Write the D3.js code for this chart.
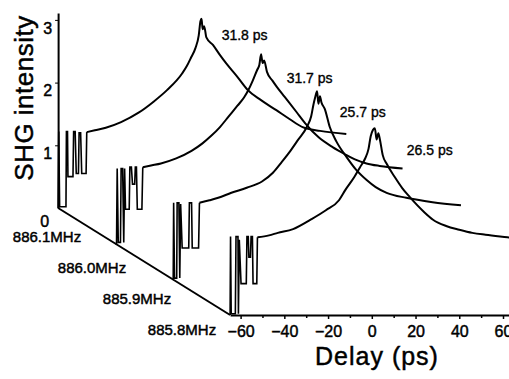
<!DOCTYPE html>
<html><head><meta charset="utf-8">
<script src="https://cdn.jsdelivr.net/npm/d3@7"></script>
<style>
body{margin:0;background:#fff}
svg{display:block}
text{font-family:"Liberation Sans",Arial,Helvetica,sans-serif;fill:#000;stroke:#000;stroke-width:0.45px}
</style>
</head><body>
<svg id="chart" width="509" height="379"></svg>
<script>
// ---------- data ----------
const frequencies = ["886.1MHz", "886.0MHz", "885.9MHz", "885.8MHz"];
const widthLabels = ["31.8 ps", "31.7 ps", "25.7 ps", "26.5 ps"];
const widthLabelDelay = [10, 13.5, 11.6, 16];
const widthLabelValue = [2.68, 2.56, 2.59, 2.55];
const delayTicks = [-60, -40, -20, 0, 20, 40, 60];
const delayMinorTicks = [-50, -30, -10, 10, 30, 50];
const intensityTicks = [0, 1, 2, 3];

const spikes886_1 = [[-64.8,0],[-64.5,1.22],[-64.1,0.02],[-61.2,0.02],[-61,1.22],[-60.5,1.22],[-60.3,0.5],[-58,0.5],[-57.7,1.22],[-57,1.22],[-56.5,0.55],[-55.5,0.55],[-55.2,1.2],[-54.5,1.2],[-54,0.55],[-52,0.55],[-51.7,1.21]];
const trace886_1 = [[-51.7,1.21],[-48,1.24],[-43,1.28],[-36,1.37],[-28,1.52],[-21,1.7],[-15,1.88],[-8,2.15],[-6,2.26],[-4,2.4],[-2,2.55],[-0.5,2.75],[0.3,2.98],[0.8,3.02],[1.3,2.85],[2,2.9],[3,2.72],[6,2.6],[9,2.45],[12,2.31],[17,2.1],[22,1.88],[28,1.72],[35,1.56],[41,1.42],[47,1.29],[55,1.23],[67,1.18]];

const spikes886_0 = [[-64.8,0],[-64.3,0],[-64,1.2],[-63.5,0.02],[-62.5,0.02],[-62.2,1.2],[-61.5,1.2],[-61,0.02],[-60.6,1.2],[-60.2,0.55],[-58.5,0.55],[-58.2,1.22],[-57.5,1.22],[-57,0.95],[-56,0.95],[-55.7,1.22],[-55.2,1.22],[-54.8,0.55],[-52.7,0.55],[-52.3,1.22]];
const trace886_0 = [[-52.3,1.22],[-48,1.25],[-44,1.28],[-37,1.36],[-30,1.48],[-25,1.6],[-21,1.72],[-17,1.86],[-13,2.03],[-9,2.2],[-6,2.33],[-4,2.45],[-2,2.6],[0,2.77],[1,2.85],[1.8,3.02],[2.5,2.88],[3.2,2.92],[4.5,2.74],[7,2.6],[9,2.5],[12.6,2.34],[18,2.1],[22,1.92],[28,1.7],[34.5,1.54],[40,1.43],[45,1.34],[50,1.28],[56,1.24],[66.5,1.2]];

const spikes885_9 = [[-64.8,0],[-64.6,0],[-64.4,1.22],[-64,0.02],[-63,0.02],[-62.8,1.22],[-62,1.22],[-61.6,0.02],[-61.2,1.2],[-60.5,0.5],[-57.5,0.5],[-57.2,1.22],[-56.2,1.22],[-55.9,0.5],[-53,0.5],[-52.6,1.22]];
const trace885_9 = [[-52.6,1.22],[-48,1.26],[-44,1.3],[-38,1.38],[-31,1.46],[-24,1.56],[-19,1.7],[-15,1.87],[-11,2.05],[-7.6,2.22],[-3.5,2.43],[-1.5,2.6],[-0.5,2.78],[0.3,2.9],[1.2,3.0],[1.8,2.8],[2.5,2.92],[3.2,2.82],[4.7,2.72],[7,2.43],[10,2.2],[14.7,1.95],[19,1.75],[24,1.58],[28,1.47],[33,1.38],[42,1.3],[54,1.23],[67,1.18]];

const spikes885_8 = [[-64.8,0],[-64.6,1.25],[-64.3,0.02],[-62.4,0.02],[-62.1,1.25],[-61.2,1.25],[-61,0.02],[-60.6,1.2],[-59.8,0.5],[-57.4,0.5],[-57.1,1.25],[-56.5,1.25],[-56.2,0.92],[-55.5,0.92],[-55.2,1.25],[-54.6,1.25],[-54.3,0.5],[-52.6,0.5],[-52.3,1.24]];
const trace885_8 = [[-52.3,1.24],[-47,1.27],[-43,1.31],[-36,1.37],[-28,1.52],[-21,1.67],[-15,1.83],[-12,2.0],[-8,2.2],[-5.5,2.35],[-3,2.5],[-1.5,2.65],[-0.5,2.85],[0.5,2.95],[1.4,2.98],[2.2,2.8],[3,2.9],[3.7,2.8],[5,2.55],[7,2.4],[10.5,2.2],[14,2.02],[17.4,1.88],[24,1.64],[28,1.52],[34,1.42],[40,1.36],[46,1.31],[52,1.28],[62,1.24],[67,1.22]];

const allSpikes = [spikes886_1, spikes886_0, spikes885_9, spikes885_8];
const allTraces = [trace886_1, trace886_0, trace885_9, trace885_8];

// ---------- layout ----------
const svg = d3.select("#chart");
const delayMin = -64.8, delayMax = 70, vMax = 3.11;
const pxPerPs = 2.1867, pxPerUnit = 62.7;
const x = d3.scaleLinear().domain([delayMin, delayMax])
  .range([371.8 + delayMin * pxPerPs, 371.8 + delayMax * pxPerPs]);
const y = d3.scaleLinear().domain([0, vMax]).range([315, 315 - vMax * pxPerUnit]);
const depthX = d3.scaleLinear().domain([0, 3]).range([-172, 0]);
const depthY = d3.scaleLinear().domain([0, 3]).range([-107, 0]);
const lblX = d3.scaleLinear().domain([0, 3]).range([47, 182]);
const lblY = d3.scaleLinear().domain([0, 3]).range([242, 335]);

const line = i => d3.line().x(p => x(p[0]) + depthX(i)).y(p => y(p[1]) + depthY(i));

// traces
allTraces.forEach((tr, i) => {
  svg.append("path").attr("d", line(i).curve(d3.curveLinear)(allSpikes[i]))
    .attr("fill", "none").attr("stroke", "#000").attr("stroke-width", 1.6);
  svg.append("path").attr("d", line(i).curve(d3.curveMonotoneX)(tr))
    .attr("fill", "none").attr("stroke", "#000").attr("stroke-width", 2)
    .attr("stroke-linejoin", "round");
});

// front delay axis
const gx = svg.append("g").attr("transform", `translate(0,${y(0)})`);
gx.call(d3.axisBottom(x).tickValues(delayTicks).tickSize(4).tickSizeOuter(0).tickPadding(6).tickFormat(d3.format("d")));
gx.append("g").call(d3.axisBottom(x).tickValues(delayMinorTicks).tickSize(3).tickFormat(""))
  .select(".domain").remove();
gx.selectAll(".domain").attr("stroke-width", 2);
gx.selectAll(".tick line").attr("stroke-width", 1.5);
gx.selectAll(".tick text").style("font-size", "16px").attr("dy", "0.78em");

svg.append("text").attr("x", 377).attr("y", 365).attr("text-anchor", "middle")
  .style("font-size", "25px").style("letter-spacing", "1px").text("Delay (ps)");

// depth axis
svg.append("path")
  .attr("d", d3.line().x(i => x(delayMin) + depthX(i)).y(i => y(0) + depthY(i))([0, 3]))
  .attr("stroke", "#000").attr("stroke-width", 2).attr("fill", "none");
frequencies.forEach((f, i) => {
  svg.append("text").attr("x", lblX(i)).attr("y", lblY(i)).attr("text-anchor", "middle")
    .style("font-size", "15px").text(f);
});

// back intensity axis
const gy = svg.append("g").attr("transform", `translate(${x(delayMin) + depthX(0)},${depthY(0)})`);
gy.call(d3.axisLeft(y).tickValues(intensityTicks).tickSize(3).tickSizeOuter(0).tickPadding(3).tickFormat(d3.format("d")));
gy.selectAll(".domain").attr("stroke-width", 2);
gy.selectAll(".tick text").style("font-size", "16px").attr("transform", "translate(0,8)");
gy.selectAll(".tick").filter(d => d === 0).select("text").attr("transform", "translate(-3,13)");
gy.selectAll(".tick").filter(d => d === 0).select("line").remove();

svg.append("text").attr("transform", "translate(33,98) rotate(-90)").attr("text-anchor", "middle")
  .style("font-size", "26px").style("letter-spacing", "0.5px").text("SHG intensity");

// width annotations
widthLabels.forEach((t, i) => {
  svg.append("text").attr("x", x(widthLabelDelay[i]) + depthX(i)).attr("y", y(widthLabelValue[i]) + depthY(i))
    .style("font-size", "14px").style("stroke-width", "0.35px").text(t);
});
</script>
</body></html>
